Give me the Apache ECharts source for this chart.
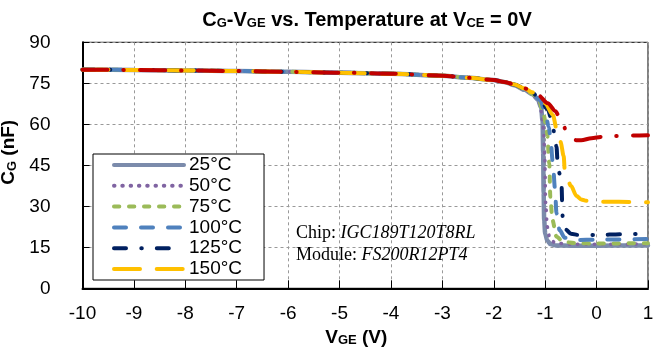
<!DOCTYPE html>
<html>
<head>
<meta charset="utf-8">
<script src="https://cdn.jsdelivr.net/npm/echarts@6/dist/echarts.min.js"></script>
<style>
  html, body { margin: 0; padding: 0; background: #fff; }
  #chart { width: 653px; height: 350px; }
</style>
</head>
<body>
<div id="chart"></div>
<script>
// Gate capacitance C_G (nF) versus gate-emitter voltage V_GE (V), one curve per junction temperature.
// Every curve shares the flat plateau on the negative side before the knee near -1.5 V.
const plateau = [[-10, 80.0], [-9, 79.9], [-8, 79.7], [-7, 79.5], [-6, 79.2], [-5, 78.9],
                 [-4, 78.5], [-3, 77.8], [-2.5, 77.0], [-2, 76.2], [-1.8, 75.5]];

const cg25 = [[-1.6, 74.3], [-1.4, 72.6], [-1.25, 71.0], [-1.14, 69.0], [-1.08, 66.2], [-1.05, 61],
              [-1.04, 50], [-1.03, 35], [-1.02, 25], [-1.0, 20], [-0.96, 17.5], [-0.9, 16.2],
              [-0.8, 15.7], [-0.5, 15.6], [0, 15.6], [1, 15.7]];
const cg50 = [[-1.6, 74.4], [-1.4, 72.7], [-1.25, 71.1], [-1.13, 68.6], [-1.07, 64.5], [-1.03, 58],
              [-1.01, 49.4], [-0.99, 31.1], [-0.96, 22.5], [-0.91, 18.3], [-0.8, 16.5],
              [-0.5, 16.1], [0, 16.1], [1, 16.2]];
const cg75 = [[-1.6, 74.5], [-1.4, 72.8], [-1.25, 71.2], [-1.12, 68.6], [-1.04, 64.5], [-0.98, 59.5],
              [-0.96, 56.1], [-0.92, 45.7], [-0.9, 33.5], [-0.86, 25], [-0.78, 18.9], [-0.65, 17.0],
              [-0.4, 16.5], [0, 16.4], [1, 16.5]];
const cg100 = [[-1.6, 74.5], [-1.4, 72.9], [-1.25, 71.3], [-1.1, 68.8], [-1.0, 64.5], [-0.93, 59],
               [-0.9, 55.5], [-0.85, 45.7], [-0.81, 36.6], [-0.78, 27.4], [-0.72, 21.3],
               [-0.62, 18.5], [-0.4, 17.7], [0, 17.8], [1, 18.0]];
const cg125 = [[-1.6, 74.6], [-1.4, 73.0], [-1.25, 71.5], [-1.1, 69.2], [-0.95, 65.5], [-0.86, 60.5],
               [-0.82, 56.5], [-0.78, 51.8], [-0.76, 46.7], [-0.72, 42], [-0.68, 37], [-0.67, 31.7],
               [-0.66, 26.2], [-0.6, 21.5], [-0.5, 20.0], [-0.35, 19.5], [0, 19.5], [0.5, 19.8], [1, 20.0]];
const cg150 = [[-1.6, 74.6], [-1.4, 73.1], [-1.25, 71.7], [-1.1, 69.5], [-1.0, 67.6], [-0.85, 63.4],
               [-0.78, 58.5], [-0.7, 53.5], [-0.64, 48.4], [-0.62, 43.3], [-0.5, 37.5], [-0.39, 33.8],
               [-0.3, 32.5], [-0.2, 32.0], [0, 31.7], [1, 31.5]];
const cg175 = [[-1.6, 74.6], [-1.33, 72.9], [-1.14, 70.7], [-0.95, 67.7], [-0.8, 64.8], [-0.72, 62.6],
               [-0.65, 60.0], [-0.6, 57.9], [-0.5, 55.5], [-0.4, 54.2], [-0.3, 54.2], [-0.1, 54.9],
               [0.1, 55.4], [0.4, 55.7], [0.7, 55.9], [1, 56.0]];

const tempNames = ['25°C', '50°C', '75°C', '100°C', '125°C', '150°C', '175°C'];
const curveData = [cg25, cg50, cg75, cg100, cg125, cg150, cg175];
const legendNames = ['25°C', '50°C', '75°C', '100°C', '125°C', '150°C'];

const xMin = -10, xMax = 1, xStep = 1;
const yMin = 0, yMax = 90, yStep = 15;

const curveStyles = [
  { color: '#7b8bab', width: 4.5, type: 'solid' },
  { color: '#8064a2', width: 3.5, type: [0.5, 7.8] },
  { color: '#9bbb59', width: 4, type: [5.3, 9.7] },
  { color: '#4f81bd', width: 4, type: [12, 15] },
  { color: '#002060', width: 4, type: [12, 15.3, 0.5, 15] },
  { color: '#ffc000', width: 4, type: [26, 16.7] },
  { color: '#c00000', width: 4, type: [25, 15.7, 0.5, 16.5] }
];

const FONT = 'Liberation Sans, Arial, sans-serif';
const SERIF = 'Liberation Serif, Times New Roman, serif';

const subRich = (size) => ({
  b: { fontFamily: FONT, fontWeight: 'bold', fontSize: size, color: '#000' },
  s: { fontFamily: FONT, fontWeight: 'bold', fontSize: 13, color: '#000', verticalAlign: 'bottom', padding: [6, 0, 0, 0] }
});

const chart = echarts.init(document.getElementById('chart'), null, { renderer: 'canvas' });

const series = curveData.map((pts, i) => ({
  name: tempNames[i],
  type: 'line',
  data: plateau.concat(pts),
  showSymbol: false,
  symbol: 'none',
  smooth: 0.3,
  smoothMonotone: 'x',
  lineStyle: {
    color: curveStyles[i].color,
    width: curveStyles[i].width,
    type: curveStyles[i].type,
    cap: 'round'
  },
  itemStyle: { color: curveStyles[i].color },
  z: 3 + i,
  animation: false
}));

chart.setOption({
  animation: false,
  backgroundColor: '#fff',
  title: {
    text: '{b|C}{s|G}{b|-V}{s|GE}{b| vs. Temperature at V}{s|CE}{b| = 0V}',
    left: 362,
    top: 5,
    textAlign: 'center',
    textStyle: { rich: subRich(20) }
  },
  grid: {
    left: 82.5, right: 5, top: 42.3, bottom: 61.7,
    outerBoundsMode: 'none',
    containLabel: false,
    show: true, borderColor: '#000', borderWidth: 1, backgroundColor: 'transparent'
  },
  legend: {
    data: legendNames,
    orient: 'vertical',
    left: 93,
    top: 154,
    itemWidth: 70,
    itemHeight: 14,
    itemGap: 0.8,
    padding: [1, 22, 1, 19],
    backgroundColor: '#fff',
    borderColor: '#000',
    borderWidth: 1,
    borderRadius: 0,
    itemStyle: { color: 'rgba(0,0,0,0)', borderColor: 'rgba(0,0,0,0)', borderWidth: 0, opacity: 0 },
    lineStyle: { width: 4, cap: 'round' },
    textStyle: { fontFamily: FONT, fontSize: 19, color: '#000', lineHeight: 20 },
    z: 20
  },
  xAxis: {
    type: 'value',
    min: xMin, max: xMax, interval: xStep,
    name: '{b|V}{s|GE}{b| (V)}',
    nameLocation: 'middle',
    nameGap: 38,
    nameTextStyle: { padding: [0, 18, 0, 0], rich: subRich(19) },
    axisLine: { show: true, onZero: false, lineStyle: { color: '#000', width: 2 } },
    axisTick: { show: true, inside: true, length: 8, lineStyle: { color: '#000', width: 1 } },
    axisLabel: { fontFamily: FONT, fontSize: 19, color: '#000', margin: 16 },
    splitLine: { show: true, lineStyle: { color: '#999', width: 1, type: [3, 3] } }
  },
  yAxis: {
    type: 'value',
    min: yMin, max: yMax, interval: yStep,
    name: '{b|C}{s|G}{b| (nF)}',
    nameLocation: 'middle',
    nameGap: 48,
    nameRotate: 90,
    nameTextStyle: { padding: [0, 0, 0, 26], rich: subRich(19) },
    axisLine: { show: true, onZero: false, lineStyle: { color: '#000', width: 2 } },
    axisTick: { show: true, inside: true, length: 7, lineStyle: { color: '#000', width: 1 } },
    axisLabel: { fontFamily: FONT, fontSize: 19, color: '#000', margin: 32 },
    splitLine: { show: true, lineStyle: { color: '#999', width: 1, type: [3, 3] } }
  },
  graphic: [
    {
      type: 'text', left: 296, top: 224, z: 30,
      style: {
        text: '{n|Chip: }{i|IGC189T120T8RL}\n{n|Module: }{i|FS200R12PT4}',
        rich: {
          n: { fontFamily: SERIF, fontSize: 18, fill: '#000', lineHeight: 22 },
          i: { fontFamily: SERIF, fontSize: 18, fontStyle: 'italic', fill: '#000', lineHeight: 22 }
        }
      }
    }
  ],
  series: series
});
</script>
</body>
</html>
